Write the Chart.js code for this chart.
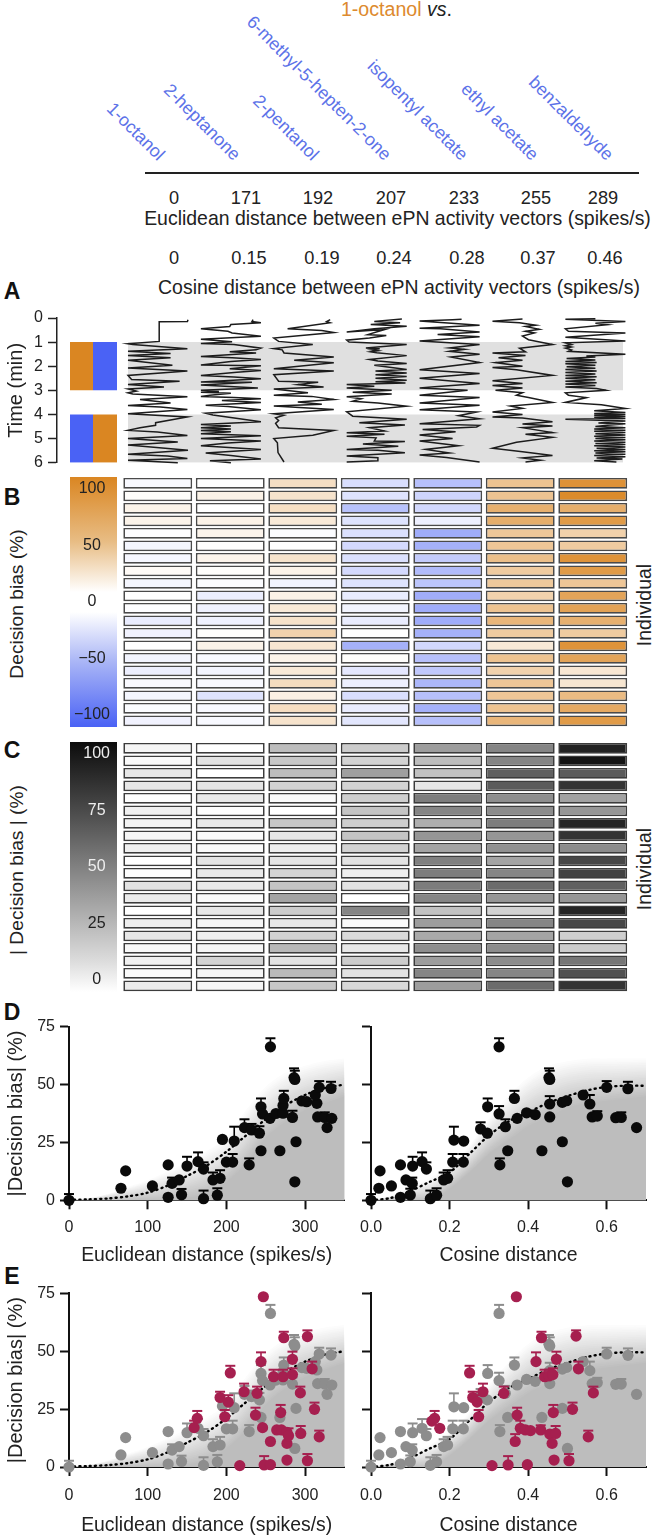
<!DOCTYPE html>
<html><head><meta charset="utf-8">
<script src="https://cdn.jsdelivr.net/npm/chart.js@4"></script>
<style>
html,body{margin:0;padding:0;background:#fff}
#page{position:relative;width:653px;height:1536px;overflow:hidden;font-family:"Liberation Sans",Arial,sans-serif;color:#222}
canvas{position:absolute;display:block}
.t{position:absolute;white-space:nowrap;line-height:1}
</style></head><body><div id="page"></div>
<script>
// ---------- labels ----------
const odors=["1-octanol","2-heptanone","2-pentanol","6-methyl-5-hepten-2-one","isopentyl acetate","ethyl acetate","benzaldehyde"];
const euclideanTicks=["0","171","192","207","233","255","289"];
const cosineTicks=["0","0.15","0.19","0.24","0.28","0.37","0.46"];

// ---------- panel A traces: [position %, time min] ----------
const trace1=[[100,.07],[99,.15],[52,.16],[52,.97],[0,1.07],[8,1.1],[99,1.27],[0,1.38],[71,1.47],[0,1.56],[71,1.65],[0,1.75],[74,1.96],[0,2.07],[99,2.2],[0,2.38],[6,2.55],[86,2.62],[0,2.76],[60,2.86],[0,2.94],[14,3.03],[0,3.1],[8,3.15],[99,3.27],[20,3.38],[71,3.52],[0,3.63],[54,3.69],[99,3.79],[0,3.97],[99,4.1],[46,4.34],[46,4.45],[20,4.55],[0,4.66],[49,4.73],[99,4.87],[0,5],[83,5.14],[0,5.27],[100,5.48],[0,5.65],[66,5.72],[99,5.83],[0,5.9],[83,6]];
const trace2=[[87,.07],[85,.15],[100,.2],[50,.27],[48,.35],[0,.45],[45,.55],[52,.62],[100,.76],[0,.88],[52,.98],[0,1.06],[55,1.1],[100,1.25],[92,1.32],[48,1.4],[92,1.45],[0,1.6],[52,1.65],[100,1.72],[50,1.8],[0,1.95],[100,1.98],[48,2.1],[100,2.18],[60,2.25],[0,2.38],[55,2.45],[100,2.52],[0,2.65],[85,2.66],[0,2.78],[95,2.9],[0,3],[30,3.05],[0,3.08],[50,3.12],[15,3.2],[0,3.25],[55,3.3],[100,3.35],[35,3.42],[100,3.5],[8,3.62],[45,3.67],[100,3.8],[8,3.95],[20,4.02],[100,4.3],[0,4.42],[50,4.48],[0,4.55],[50,4.6],[0,4.66],[50,4.72],[0,4.8],[100,4.88],[0,5],[100,5.1],[45,5.18],[0,5.3],[100,5.45],[8,5.6],[50,5.7],[100,5.85],[15,5.92],[50,6]];
const trace3=[[94,.07],[88,.15],[94,.2],[23,.45],[80,.52],[100,.6],[0,.83],[8,.97],[65,1.1],[0,1.27],[14,1.32],[17,1.45],[100,1.62],[34,1.75],[100,1.86],[0,2.1],[100,2.2],[0,2.35],[8,2.62],[74,2.66],[40,2.76],[83,2.86],[0,2.94],[57,3.1],[0,3.2],[63,3.25],[100,3.38],[40,3.48],[80,3.58],[0,3.65],[100,3.79],[0,3.97],[17,4.03],[3,4.14],[8,4.25],[3,4.37],[8,4.55],[100,4.66],[65,4.86],[0,5],[6,5.17],[7,5.58],[17,5.97]];
const trace4=[[92,.04],[46,.14],[89,.2],[40,.27],[100,.34],[46,.45],[0,.58],[63,.48],[35,.69],[66,.73],[38,.83],[0,.92],[4,1],[100,1.1],[32,1.24],[55,1.28],[42,1.32],[52,1.36],[40,1.4],[50,1.44],[100,1.56],[38,1.72],[52,1.78],[100,1.89],[46,1.96],[100,2.14],[48,2.2],[100,2.28],[48,2.35],[100,2.43],[48,2.5],[100,2.58],[48,2.64],[98,2.7],[0,2.76],[46,2.83],[0,2.9],[75,3],[10,3.08],[75,3.15],[0,3.27],[24,3.35],[10,3.45],[52,3.52],[100,3.66],[0,3.89],[10,4.07],[100,4.2],[21,4.34],[97,4.44],[38,4.55],[63,4.69],[0,4.76],[63,4.82],[0,4.9],[49,4.97],[46,5.1],[97,5.12],[27,5.22],[86,5.32],[0,5.45],[52,5.48],[97,5.59],[0,5.72],[52,5.79],[52,5.92],[0,5.97]];
const trace5=[[70,.05],[55,.07],[0,.12],[100,.3],[0,.42],[35,.45],[100,.58],[30,.68],[100,.78],[0,.95],[100,1.1],[50,1.24],[75,1.3],[50,1.38],[100,1.5],[52,1.62],[100,1.85],[0,2.15],[100,2.3],[0,2.5],[100,2.72],[25,2.85],[0,2.9],[80,3],[0,3.2],[100,3.3],[0,3.52],[100,3.62],[0,3.8],[95,3.9],[65,4.05],[100,4.18],[0,4.38],[100,4.45],[95,4.52],[5,4.62],[60,4.72],[0,4.85],[55,5],[0,5.1],[65,5.3],[10,5.45],[50,5.6],[0,5.68],[45,5.78],[100,5.97]];
const trace6=[[50,.04],[0,.13],[45,.2],[72,.3],[55,.35],[78,.47],[55,.55],[70,.62],[50,.75],[60,.9],[100,1.1],[45,1.25],[55,1.4],[0,1.45],[55,1.55],[10,1.65],[50,1.75],[5,1.85],[50,2],[0,2.05],[40,2.15],[100,2.38],[0,2.6],[50,2.72],[0,2.8],[50,2.9],[5,3],[50,3.1],[40,3.2],[60,3.3],[100,3.5],[30,3.65],[50,3.75],[0,3.9],[50,4],[0,4.1],[50,4.15],[100,4.3],[50,4.4],[100,4.48],[50,4.55],[100,4.75],[55,4.82],[100,4.95],[40,5.15],[0,5.4],[50,5.55],[100,5.7],[50,5.8],[80,5.9],[55,5.97]];
const trace7=[[50,.03],[0,.05],[100,.15],[50,.22],[70,.28],[0,.45],[5,.55],[100,.62],[0,.8],[100,.95],[0,1.03],[10,1.1],[0,1.15],[10,1.2],[0,1.25],[10,1.32],[5,1.38],[100,1.5],[35,1.58],[50,1.62],[2,1.68],[50,1.74],[0,1.8],[52,1.85],[0,1.9],[50,1.96],[2,2.02],[50,2.08],[0,2.14],[52,2.2],[0,2.26],[50,2.32],[0,2.38],[52,2.44],[0,2.5],[50,2.56],[0,2.62],[52,2.68],[0,2.74],[50,2.8],[0,2.86],[52,2.92],[68,3],[0,3.1],[5,3.2],[35,3.3],[0,3.5],[60,3.6],[100,3.75],[48,3.85],[100,3.92],[48,3.96],[100,4],[48,4.03],[100,4.08],[48,4.12],[100,4.17],[0,4.2],[100,4.27],[55,4.35],[100,4.38],[70,4.45],[50,4.5],[100,4.55],[48,4.6],[100,4.65],[48,4.7],[100,4.75],[50,4.8],[100,4.85],[48,4.9],[100,4.95],[50,5],[100,5.05],[48,5.1],[100,5.15],[50,5.2],[100,5.25],[48,5.3],[100,5.35],[52,5.4],[100,5.45],[48,5.5],[100,5.55],[50,5.6],[100,5.65],[48,5.7],[100,5.75],[52,5.8],[95,5.85],[48,5.92],[85,5.97]];
const timeTicks=[0,1,2,3,4,5,6];

// ---------- panel B / C: decision bias (%), one list per odor, 20 individuals ----------
const biasOctanol=[-4,2,10,10,-1,-6,-5,4,-6,0,-1,-12,-8,0,-7,-10,-3,-6,-2,-8];
const biasHeptanone=[0,11,0,11,9,1,9,2,-2,-11,-9,-9,2,10,-4,-7,-4,-18,-4,-4];
const biasPentanol=[27,23,27,18,-2,0,23,10,-7,11,18,24,37,21,10,18,29,12,28,23];
const biasMethylheptenone=[-21,-18,-39,-18,-20,-24,-20,-24,-18,-12,-7,-12,0,-50,2,-15,-10,-21,-12,-16];
const biasIsopentyl=[-40,-27,-25,-10,-53,-50,-33,-43,-37,-52,-53,-53,-50,-25,-40,-35,-46,-40,-50,-40];
const biasEthyl=[50,50,65,67,46,47,53,43,45,37,50,60,43,18,50,37,47,47,50,60];
const biasBenzaldehyde=[90,96,67,83,38,43,89,83,47,75,77,65,43,89,75,20,21,56,71,83];
const biasTicks=[100,50,0,-50,-100];
const absBiasTicks=[100,75,50,25,0];

// ---------- panel D / E ----------
const fitEucX=[0,25,50,75,100,125,150,175,200,225,250,275,300,325,350];
const fitEucY=[.2,.4,.8,1.7,3.3,6.3,10.5,15,21,28,35,41,45.5,48.5,50];
const bandEucTop=[0,1,3,6,9,13,17,22,28,40,50,56,59,61,62];
const bandEucBottom=[0,0,0,0,0,0,1,3,8,16,27,34,39,42,45];
const fitCosX=[0,.05,.1,.15,.2,.25,.3,.35,.4,.45,.5,.55,.6,.65,.7];
const fitCosY=[0,1,4,8,12,20,28,34,38,42,45,47.5,49,49.5,49.5];
const bandCosTop=[0,2,6,10,16,24,36,46,54,59,61,62,62,62,62];
const bandCosBottom=[0,0,0,0,5,12,20,26,32,36,40,42,43,44,45];

const ctlEucX=[0,66,72,106,126,126,131,140,143,150,164,171,171,183,188.5,192,195,200,208,210,223,229,232,242,244,244,246,255.5,256,263,268,272,272,273,284,286,287,287,288.5,296,302,315,313,318,316,325,328,333,334];
const ctlEucY=[0,5.2,12.7,6.2,15.3,1.3,7.3,8.8,2.4,14.8,16.7,13.5,.7,8.8,2.2,9.5,26.3,16.5,16.5,25.6,31.4,15.3,30.4,29,21.4,40.4,37.3,35.4,66.3,37.5,21.4,37.6,41,44,35.8,53,52.2,8,25.3,42.9,42.6,41.9,45.5,48.8,36,35.8,31.4,48.3,35.4];
const ctlEucTop=[2.7,null,null,null,null,null,9.8,null,4.9,18.8,20.7,16.4,4.2,12,5.2,13,null,null,20,31.8,35,18.1,33,32,null,44,null,null,70,null,null,null,null,47.3,38.7,57,56,null,null,null,null,null,null,51.5,null,38,null,51.2,null];

const ctlCosX=[0,.02,.023,.052,.075,.075,.089,.1,.105,.106,.13,.141,.151,.167,.185,.195,.208,.211,.236,.235,.279,.296,.297,.326,.326,.328,.342,.348,.365,.372,.396,.418,.435,.453,.455,.455,.455,.487,.487,.498,.5,.54,.557,.563,.576,.6,.623,.637,.654,.676];
const ctlCosY=[0,5.2,12.7,6.2,15.3,1.3,8.8,2.3,7.3,14.8,16.7,13.5,.7,2.2,8.8,9.5,16.5,26,25.6,16.5,30.8,29,40.4,37.3,66.3,15.3,31.8,21.4,44,35.4,37.8,37,21.4,53,52.2,41.6,36,25.3,42.3,43,8,45.5,41.6,36,36.4,48.8,35.7,35.8,48.2,31.4];
const ctlCosTop=[2.7,null,null,null,null,null,null,5,9.8,18.8,20.7,16.4,4.2,5.2,12,13,20,31.8,null,20,33.7,null,44,40.7,70,18.1,35,null,47.3,null,null,null,null,57,56,45,null,null,null,null,null,null,45.5,null,38.5,51.5,null,38,51.2,null];

const optoEucX=[159,163,192,202.5,205,198,217,222.5,239,237,247,244,246,248,256,256,260,272,269,273,264,270,277,277,279,277,284,284,294,294.5,303,303,309,312,318];
const optoEucY=[17,21,30,28,40.6,21.7,.6,32.5,31.8,22.4,73.5,45.5,17,.9,1,11,39,39,23.5,55.8,16,16,15,10.2,13.5,3,46.5,39.9,32,14.5,56.3,2.7,42.4,24.9,13];
const optoEucTop=[20,24.2,32.5,31,43.7,24.6,null,36,34.7,25.6,null,49.5,null,4.7,null,null,42,42,26.8,58.4,null,null,null,null,16.7,null,49.8,42.6,34.7,17.7,59,5.6,45.5,27.8,15.7];

const optoCosX=[.308,.349,.398,.37,.434,.522,.42,.472,.251,.528,.442,.453,.463,.285,.338,.259,.27,.566,.274,.372,.464,.513,.162,.155,.175,.38,.393,.406,.432,.455,.47,.367,.461,.553,.466,.504];
const optoCosY=[.6,.9,1,73.5,55.8,56.5,45.5,46.5,40.6,42.4,39,39.3,39.9,32.5,31.8,30,28,32,21.7,22.4,23.5,24.9,21,19.8,16.7,16.7,16,15.7,16,14.2,14.5,11,10.2,13,3,2.7];
const optoCosTop=[null,4.7,null,null,58.4,59,49.5,49.8,43.7,45.5,42,42,42.6,36,34.7,32.5,31,34.7,24.6,25.6,26.8,27.8,24.2,null,null,20,null,null,18,null,17.7,14.2,null,15.7,null,5.6];

const yTicks=[0,25,50,75], eucTicks=[0,100,200,300], cosTicks=[0,.2,.4,.6];

// ---------- colours & helpers ----------
const ORANGE=[218,134,34], BLUE=[74,98,245];
const page=document.getElementById('page');
const FONT='"Liberation Sans", Arial, sans-serif';
Chart.defaults.font.family=FONT; Chart.defaults.color='#222'; Chart.defaults.animation=false;
Chart.defaults.responsive=false;
const noPad=s=>{s.paddingTop=0;s.paddingBottom=0;s.paddingLeft=0;s.paddingRight=0;};

function mix(c,f){return `rgb(${c.map(v=>Math.round(255+(v-255)*f)).join(',')})`}
function biasColor(v){return mix(v>=0?ORANGE:BLUE,Math.min(1,Math.abs(v)/100))}
function greyColor(v){const g=Math.round(255-Math.abs(v)*2.45);return `rgb(${g},${g},${g})`}
function text(s,x,y,size,o={}){
  const d=document.createElement('div');d.className='t';
  d.style.left=x+'px';d.style.top=y+'px';d.style.fontSize=size+'px';
  d.style.transform=`translate(-50%,-50%)${o.rot?` rotate(${o.rot}deg)`:''}`;
  if(o.color)d.style.color=o.color; if(o.bold)d.style.fontWeight='bold';
  if(o.html)d.innerHTML=s; else d.textContent=s;
  page.appendChild(d);return d;
}
function canvas(l,t,w,h,bg){
  const c=document.createElement('canvas');c.width=w;c.height=h;c.style.left=l+'px';c.style.top=t+'px';
  c.style.width=w+'px';c.style.height=h+'px'; if(bg)c.style.background=bg; page.appendChild(c);return c;
}

// ---------- header ----------
text('<span style="color:#dd8a2e">1-octanol</span> <i style="color:#222">vs</i>.',396.5,10,19.6,{html:true});
const labelEnds=[161,237,315,388,464,535,610];
odors.forEach((n,i)=>{
  const d=document.createElement('div');d.className='t';d.textContent=n;
  d.style.cssText+=`font-size:17.8px;color:#5c72e8;right:${653-labelEnds[i]}px;top:${149}px;transform-origin:100% 50%;transform:rotate(45deg)`;
  page.appendChild(d);
});
const rule=document.createElement('div');rule.style.cssText='position:absolute;left:145px;top:172px;width:494px;height:1.5px;background:#222';page.appendChild(rule);
const eucCenters=[174,246,318,391,464,536,603], cosCenters=[174,249,322,394,467,538,605];
euclideanTicks.forEach((s,i)=>text(s,eucCenters[i],198,18.2));
cosineTicks.forEach((s,i)=>text(s,cosCenters[i],258,18.2));
text('Euclidean distance between ePN activity vectors (spikes/s)',397.5,219,19.45);
text('Cosine distance between ePN activity vectors (spikes/s)',399,288,19.45);
[['A',12,291],['B',12,497],['C',12,750],['D',12,1012],['E',12,1276]].forEach(a=>text(a[0],a[1],a[2],23,{bold:true,color:'#111'}));

// ---------- panel A ----------
(function(){
  const traces=[trace1,trace2,trace3,trace4,trace5,trace6,trace7];
  const unit=60, pitch=72.9/unit;
  const rect=(x0,x1,t0,t1,c)=>({type:'scatter',showLine:true,data:[{x:x0,y:t0},{x:x1,y:t0}],fill:{value:t1},backgroundColor:c,borderWidth:0,pointRadius:0,order:50});
  const px=p=>(p-128)/unit;
  const orange=mix(ORANGE,1),blue=mix(BLUE,1);
  const ds=[
    rect(px(128),px(623),1,3,'#e0e0e0'),rect(px(128),px(623),4,6,'#e0e0e0'),
    rect(px(70),px(93),1,3,orange),rect(px(93),px(117),1,3,blue),
    rect(px(70),px(93),4,6,blue),rect(px(93),px(117),4,6,orange)
  ];
  traces.forEach((tr,i)=>ds.push({type:'scatter',showLine:true,data:tr.map(p=>({x:i*pitch+p[0]/100,y:p[1]})),borderColor:'#1c1c1c',borderWidth:1.5,pointRadius:0,tension:0,order:1,clip:false}));
  new Chart(canvas(0,300,640,170),{type:'scatter',data:{datasets:ds},options:{
    layout:{padding:{top:18,bottom:7.3}},plugins:{legend:{display:false},tooltip:{enabled:false}},
    scales:{
      x:{type:'linear',display:false,min:px(57),max:px(640),afterFit:noPad},
      y:{type:'linear',reverse:true,min:0,max:6,afterBuildTicks:s=>{s.ticks=timeTicks.map(v=>({value:v}))},
        afterFit:s=>{s.width=57;noPad(s)},
        border:{color:'#222',width:1.5},grid:{drawOnChartArea:false,tickLength:9,tickColor:'#222',tickWidth:1.5},
        ticks:{font:{size:16},color:'#222',padding:5,autoSkip:false,callback:v=>String(v)},
        title:{display:true,text:'Time (min)',font:{size:20},color:'#222',padding:{top:4,bottom:0}}}
    }}});
})();

// ---------- panels B, C ----------
const biasColumns=[biasOctanol,biasHeptanone,biasPentanol,biasMethylheptenone,biasIsopentyl,biasEthyl,biasBenzaldehyde];
function heatmap(top,colorFn,border){
  const rows=biasOctanol.map((_,r)=>({
    data:biasColumns.map(col=>[r+.07,r+.93]),
    backgroundColor:biasColumns.map(col=>colorFn(col[r])),
    borderColor:border,borderWidth:1.7,borderSkipped:false,
    grouped:false,barPercentage:.95,categoryPercentage:1
  }));
  new Chart(canvas(120,top-3,512,256),{type:'bar',data:{labels:odors,datasets:rows},options:{
    layout:{padding:{left:1.5,right:3,top:3,bottom:3}},plugins:{legend:{display:false},tooltip:{enabled:false}},
    scales:{x:{display:false,type:'category'},y:{display:false,type:'linear',reverse:true,min:0,max:20}}
  }});
}
heatmap(477,biasColor,'#4a4a4a');
heatmap(742,greyColor,'#3c3c3c');

function colorbar(top,bg,min,max,ticks,labelFn,colorFn){
  new Chart(canvas(70,top,47,250,bg),{type:'scatter',data:{datasets:[]},options:{
    layout:{padding:0},plugins:{legend:{display:false},tooltip:{enabled:false}},
    scales:{x:{type:'linear',display:false,min:0,max:1,afterFit:noPad},
      y:{type:'linear',min,max,afterBuildTicks:s=>{s.ticks=ticks.map(v=>({value:v}))},afterFit:s=>{s.width=46;noPad(s)},
        border:{display:false},grid:{display:false,drawTicks:false},
        ticks:{font:{size:16},crossAlign:'center',padding:6,autoSkip:false,callback:labelFn,color:c=>colorFn(c.tick.value)}}}
  }});
}
colorbar(477,'linear-gradient(to bottom,#da8622 0%,#e8bd85 26%,#ffffff 46%,#ffffff 54%,#a9b5f6 74%,#4a62f5 100%)',-110.6,110.6,biasTicks,v=>v<0?'\u2212'+(-v):String(v),()=>'#222');
colorbar(742,'linear-gradient(to bottom,#0c0c0c 0%,#555 32%,#999 60%,#ddd 88%,#fff 100%)',-5.3,105.3,absBiasTicks,v=>String(v),v=>v>=50?'#eee':'#222');

text('Decision bias (%)',17,604,19.2,{rot:-90});
text('| Decision bias | (%)',17,870,19.2,{rot:-90});
text('Individual',645,605,19.5,{rot:-90});
text('Individual',645,869,19.5,{rot:-90});

// ---------- panels D, E ----------
const errSet=(xs,ys,tops,color,order)=>{
  const pts=[];
  xs.forEach((x,i)=>{ if(tops[i]!=null){pts.push({x,y:ys[i],cap:false},{x,y:tops[i],cap:true},{x,y:null,cap:false});} });
  return {type:'scatter',showLine:true,data:pts,borderColor:color,backgroundColor:color,borderWidth:1.6,spanGaps:false,
    pointStyle:'line',pointBorderColor:color,pointBorderWidth:2,pointRadius:c=>c.raw&&c.raw.cap?5:0,order,clip:false};
};
const dotSet=(xs,ys,color,order)=>({type:'scatter',data:xs.map((x,i)=>({x,y:ys[i]})),backgroundColor:color,borderWidth:0,pointRadius:5.6,order,clip:false});
function bandSets(fx,fy,top,bottom){
  const N=24, out=[];
  for(let k=N;k>=0;k--){
    const f=k/N,g=Math.round(189+(255-189)*f);
    out.push({type:'scatter',showLine:true,data:fx.map((x,i)=>({x,y:bottom[i]+(top[i]-bottom[i])*f})),fill:'origin',
      backgroundColor:`rgb(${g},${g},${g})`,borderWidth:0,pointRadius:0,tension:.3,order:100+k});
  }
  out.push({type:'scatter',showLine:true,data:fx.map((x,i)=>({x,y:fy[i]})),borderColor:'#000',borderWidth:2.4,borderDash:[1,4.2],borderCapStyle:'round',pointRadius:0,tension:.3,order:50});
  return out;
}
function scatterPanel(o){
  new Chart(canvas(o.left,o.top,o.w,o.h),{type:'scatter',data:{datasets:o.sets},options:{
    layout:{padding:{top:o.padTop,right:o.padRight}},plugins:{legend:{display:false},tooltip:{enabled:false}},
    scales:{
      x:{type:'linear',min:0,max:o.xMax,afterBuildTicks:s=>{s.ticks=o.xTicks.map(v=>({value:v}))},afterFit:s=>{s.height=o.axisH;noPad(s)},
        border:{color:'#111',width:2},grid:{drawOnChartArea:false,tickLength:9,tickColor:'#111',tickWidth:2},
        ticks:{font:{size:16},color:'#222',padding:o.tickPad,autoSkip:false,maxRotation:0,callback:o.fmt},
        title:{display:true,text:o.xTitle,font:{size:o.titleSize},color:'#222',padding:{top:0,bottom:o.titleBottom}}},
      y:{type:'linear',min:0,max:75,afterBuildTicks:s=>{s.ticks=yTicks.map(v=>({value:v}))},afterFit:s=>{s.width=o.axisW;noPad(s)},
        border:{color:'#111',width:2},grid:{drawOnChartArea:false,tickLength:9,tickColor:'#111',tickWidth:2},
        ticks:{font:{size:16},color:'#222',padding:5,autoSkip:false,callback:o.yLabels?(v=>String(v)):(()=>'')},
        title:{display:!!o.yLabels,text:'|Decision bias| (%)',font:{size:20},color:'#222',padding:{top:4,bottom:0}}}
    }}});
}
const eucFmt=v=>String(v), cosFmt=v=>Number(v).toFixed(1);
scatterPanel({left:0,top:1015,w:350,h:255,padTop:11.7,padRight:5,axisH:69.7,axisW:69,xMax:350,xTicks:eucTicks,fmt:eucFmt,tickPad:9,
  xTitle:'Euclidean distance (spikes/s)',titleSize:19.4,titleBottom:3,yLabels:true,
  sets:[...bandSets(fitEucX,fitEucY,bandEucTop,bandEucBottom),errSet(ctlEucX,ctlEucY,ctlEucTop,'#000',20),dotSet(ctlEucX,ctlEucY,'#0a0a0a',19)]});
scatterPanel({left:350,top:1015,w:303,h:255,padTop:11.7,padRight:7,axisH:69.7,axisW:21,xMax:.7,xTicks:cosTicks,fmt:cosFmt,tickPad:9,
  xTitle:'Cosine distance',titleSize:19.4,titleBottom:3,yLabels:false,
  sets:[...bandSets(fitCosX,fitCosY,bandCosTop,bandCosBottom),errSet(ctlCosX,ctlCosY,ctlCosTop,'#000',20),dotSet(ctlCosX,ctlCosY,'#0a0a0a',19)]});
const GREY='#8d8d8d', RED='#a61f4f';
scatterPanel({left:0,top:1282,w:350,h:254,padTop:11.3,padRight:5,axisH:69,axisW:69,xMax:350,xTicks:eucTicks,fmt:eucFmt,tickPad:10,
  xTitle:'Euclidean distance (spikes/s)',titleSize:19.4,titleBottom:-1,yLabels:true,
  sets:[...bandSets(fitEucX,fitEucY,bandEucTop,bandEucBottom),errSet(ctlEucX,ctlEucY,ctlEucTop,GREY,20),dotSet(ctlEucX,ctlEucY,GREY,19),errSet(optoEucX,optoEucY,optoEucTop,RED,10),dotSet(optoEucX,optoEucY,RED,9)]});
scatterPanel({left:350,top:1282,w:303,h:254,padTop:11.3,padRight:7,axisH:69,axisW:21,xMax:.7,xTicks:cosTicks,fmt:cosFmt,tickPad:10,
  xTitle:'Cosine distance',titleSize:19.4,titleBottom:-1,yLabels:false,
  sets:[...bandSets(fitCosX,fitCosY,bandCosTop,bandCosBottom),errSet(ctlCosX,ctlCosY,ctlCosTop,GREY,20),dotSet(ctlCosX,ctlCosY,GREY,19),errSet(optoCosX,optoCosY,optoCosTop,RED,10),dotSet(optoCosX,optoCosY,RED,9)]});
</script></body></html>
